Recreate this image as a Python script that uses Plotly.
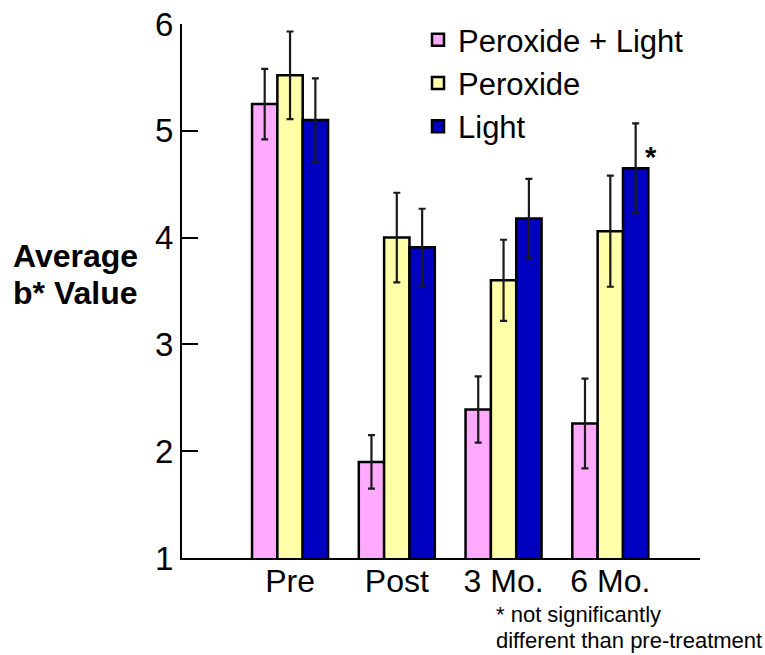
import plotly.graph_objects as go

categories = ["Pre", "Post", "3 Mo.", "6 Mo."]
series_names = ["Peroxide + Light", "Peroxide", "Light"]
perox_light = [5.25, 1.90, 2.39, 2.26]
perox_light_err = [0.33, 0.25, 0.31, 0.42]
peroxide = [5.52, 4.00, 3.60, 4.06]
peroxide_err = [0.41, 0.42, 0.38, 0.52]
light = [5.10, 3.91, 4.18, 4.65]
light_err = [0.39, 0.36, 0.37, 0.42]
y_ticks = [1, 2, 3, 4, 5, 6]
colors = ["#FFAAFF", "#FFFFAA", "#0000C0"]

W, H = 765, 655
L, R, T, B = 182, 65, 24, 97
pw, ph = W - L - R, H - T - B

def px_x(x):
    return (x - L) / pw

def px_y(y):
    return (H - B - y) / ph

FONT = "Arial, Liberation Sans, sans-serif"

fig = go.Figure()
for name, vals, errs, col in zip(series_names, [perox_light, peroxide, light],
                                 [perox_light_err, peroxide_err, light_err], colors):
    fig.add_trace(go.Bar(
        name=name, x=categories, y=vals, base=0,
        marker=dict(color=col, line=dict(color="black", width=2.5)),
        error_y=dict(type="data", array=errs, visible=True, color="#1a1a1a",
                     thickness=2.2, width=3.5),
    ))

fig.update_layout(
    width=W, height=H,
    margin=dict(l=L, r=R, t=T, b=B, autoexpand=False),
    paper_bgcolor="white", plot_bgcolor="white",
    barmode="group", bargap=0.288, bargroupgap=0,
    font=dict(family=FONT, color="black"),
    showlegend=True,
    legend=dict(x=px_x(418), y=px_y(13), xanchor="left", yanchor="top",
                font=dict(size=31, family=FONT, color="black"),
                bgcolor="rgba(0,0,0,0)", tracegroupgap=0),
    xaxis=dict(range=[-1.012, 3.84], showline=True, linecolor="black", linewidth=2,
               ticks="", showgrid=False, zeroline=False, automargin=False,
               ticklabelstandoff=-6,
               tickfont=dict(size=32, family=FONT, color="black")),
    yaxis=dict(range=[1, 6], tickvals=y_ticks, showline=True, linecolor="black",
               linewidth=2, ticks="inside", ticklen=16, tickwidth=2, tickcolor="black",
               showgrid=False, zeroline=False, automargin=False,
               tickfont=dict(size=33, family=FONT, color="black")),
)

# horizontal y-axis title
fig.add_annotation(text="<b>Average</b>", xref="paper", yref="paper",
                   x=px_x(11), y=px_y(256), xanchor="left", yanchor="middle",
                   showarrow=False, font=dict(size=32, family=FONT, color="black"))
fig.add_annotation(text="<b>b* Value</b>", xref="paper", yref="paper",
                   x=px_x(11), y=px_y(293), xanchor="left", yanchor="middle",
                   showarrow=False, font=dict(size=32, family=FONT, color="black"))

# significance marker on the 6 Mo. Light bar
fig.add_annotation(text="<b>*</b>", x=categories[3], y=light[3], xref="x", yref="y",
                   xshift=41, yshift=-7, yanchor="bottom", showarrow=False,
                   font=dict(size=29, family=FONT, color="black"))

# footnote
fig.add_annotation(text="* not significantly", xref="paper", yref="paper",
                   x=px_x(494), y=px_y(614), xanchor="left", yanchor="middle",
                   showarrow=False, font=dict(size=22, family=FONT, color="black"))
fig.add_annotation(text="different than pre-treatment", xref="paper", yref="paper",
                   x=px_x(494), y=px_y(640), xanchor="left", yanchor="middle",
                   showarrow=False, font=dict(size=22, family=FONT, color="black"))

fig.write_html("out.html")
